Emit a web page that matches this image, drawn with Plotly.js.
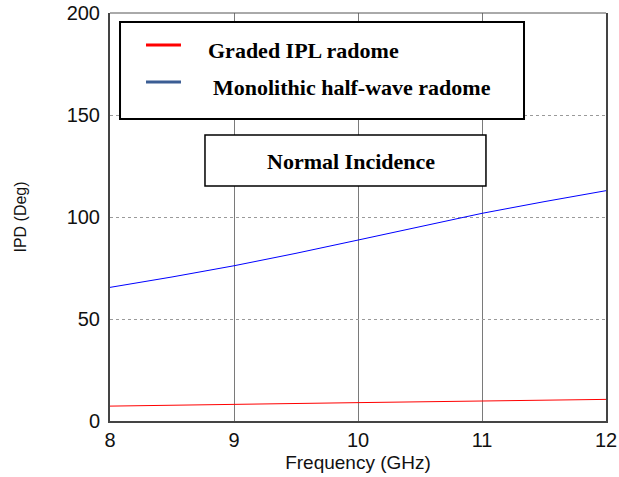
<!DOCTYPE html>
<html><head><meta charset="utf-8">
<script src="https://cdn.plot.ly/plotly-3.0.1.min.js"></script>
<style>html,body{margin:0;padding:0;background:#fff}#chart{width:619px;height:477px}</style>
</head><body><div id="chart"></div>
<script>
const freq = [8, 8.5, 9, 9.5, 10, 10.5, 11, 11.5, 12];
const gradedIPL = [7.3, 7.8, 8.3, 8.6, 9.0, 9.4, 9.8, 10.2, 10.6];
const monolithic = [65.5, 70.6, 76.1, 82.2, 88.7, 95.2, 101.8, 107.5, 112.9];
const seriesNames = ['Graded IPL radome', 'Monolithic half-wave radome'];
const xTicks = [8, 9, 10, 11, 12];
const yTicks = [0, 50, 100, 150, 200];
const boxLabel = 'Normal Incidence';

const serif = 'Liberation Serif, Times New Roman, serif';
const sans = 'Liberation Sans, Arial, sans-serif';

const traces = [
  {x: freq, y: gradedIPL, name: seriesNames[0], mode: 'lines', line: {color: '#ff0000', width: 1}},
  {x: freq, y: monolithic, name: seriesNames[1], mode: 'lines', line: {color: '#0000ff', width: 1}}
];

const layout = {
  width: 619, height: 477,
  margin: {l: 110, r: 13, t: 13, b: 56},
  paper_bgcolor: '#fff', plot_bgcolor: '#fff',
  showlegend: false,
  xaxis: {
    range: [8, 12], tickvals: xTicks, ticktext: xTicks.map(String),
    showgrid: true, gridcolor: '#7a7a7a', gridwidth: 1,
    showline: true, linecolor: '#444', linewidth: 2, mirror: false,
    ticks: '', zeroline: false,
    tickfont: {family: sans, size: 20, color: '#111'},
    title: {text: 'Frequency (GHz)', font: {family: sans, size: 19, color: '#111'}, standoff: 6}
  },
  yaxis: {
    range: [0, 200], tickvals: yTicks, ticktext: yTicks.map(String),
    showgrid: true, gridcolor: '#9a9a9a', gridwidth: 1, griddash: 'dot',
    showline: true, linecolor: '#444', linewidth: 2, mirror: true,
    ticks: '', zeroline: false, ticklabelstandoff: 4,
    tickfont: {family: sans, size: 20, color: '#111'},
    title: {text: 'IPD (Deg)', font: {family: sans, size: 16, color: '#111'}, standoff: 36}
  },
  shapes: [
    {type: 'line', xref: 'paper', yref: 'paper', x0: 0, x1: 1, y0: 1, y1: 1, line: {color: '#555', width: 1}},
    {type: 'rect', xref: 'paper', yref: 'paper', x0: 0.0202, x1: 0.8347, y0: 0.740, y1: 0.978,
      line: {color: '#000', width: 2}, fillcolor: '#fff', layer: 'above'},
    {type: 'line', xref: 'paper', yref: 'paper', x0: 0.0726, x1: 0.1431, y0: 0.9216, y1: 0.9216,
      line: {color: '#ff0000', width: 3}, layer: 'above'},
    {type: 'line', xref: 'paper', yref: 'paper', x0: 0.0726, x1: 0.1431, y0: 0.8309, y1: 0.8309,
      line: {color: '#3b5d94', width: 3}, layer: 'above'},
    {type: 'rect', xref: 'paper', yref: 'paper', x0: 0.1915, x1: 0.758, y0: 0.576, y1: 0.701,
      line: {color: '#000', width: 1.5}, fillcolor: '#fff', layer: 'above'}
  ],
  annotations: [
    {xref: 'paper', yref: 'paper', x: 0.1935, y: 0.9093, xanchor: 'left', yanchor: 'middle', showarrow: false,
      text: '<b>' + seriesNames[0] + '</b>', font: {family: serif, size: 22, color: '#000'}},
    {xref: 'paper', yref: 'paper', x: 0.2036, y: 0.8186, xanchor: 'left', yanchor: 'middle', showarrow: false,
      text: '<b>' + seriesNames[1] + '</b>', font: {family: serif, size: 22, color: '#000'}},
    {xref: 'paper', yref: 'paper', x: 0.4849, y: 0.637, xanchor: 'center', yanchor: 'middle', showarrow: false,
      text: '<b>' + boxLabel + '</b>', font: {family: serif, size: 22, color: '#000'}}
  ]
};

Plotly.newPlot('chart', traces, layout, {displayModeBar: false, staticPlot: true});
</script></body></html>
